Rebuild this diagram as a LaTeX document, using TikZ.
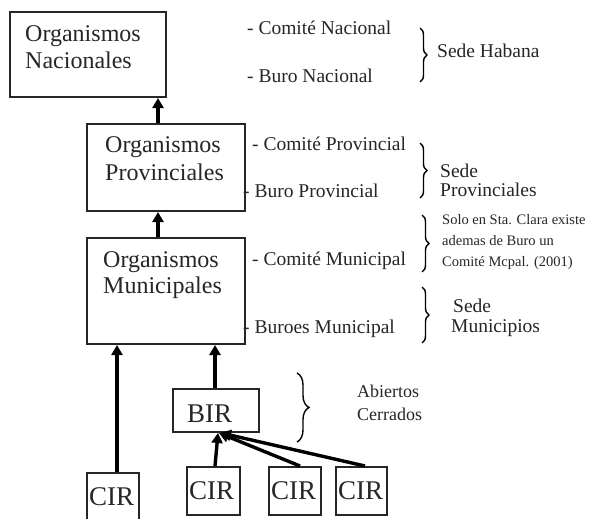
\documentclass[tikz,border=0pt]{standalone}
\usepackage{fontspec}
\setmainfont{Liberation Serif}
\usetikzlibrary{arrows.meta,decorations.pathreplacing,calc}
\begin{document}
\begin{tikzpicture}[x=1pt,y=-1pt,
  box/.style={draw=black!85,line width=2pt,inner sep=0pt},
  arr/.style={line width=3.4pt,-{Triangle[width=11pt,length=10pt]}},
  txt/.style={anchor=base west,inner sep=0pt,text=black!85},
  big/.style={txt,font=\fontsize{24}{26}\selectfont},
  huge/.style={txt,font=\fontsize{27}{29}\selectfont},
  lab/.style={txt,font=\fontsize{19.5}{21}\selectfont},
  small/.style={txt,font=\fontsize{14.5}{16}\selectfont},
  brc/.style={line width=1.4pt,decorate,decoration={brace,amplitude=#1}}]
\clip (0,0) rectangle (605,519);
\fill[white] (0,0) rectangle (605,519);
% boxes
\node[box,minimum width=156pt,minimum height=85pt] (nac) at (88,54.5) {};
\node[box,minimum width=158pt,minimum height=87pt] (prov) at (166,167.5) {};
\node[box,minimum width=158pt,minimum height=106pt] (mun) at (166,291) {};
\node[box,minimum width=86pt,minimum height=43pt] (bir) at (216,410.5) {};
\node[box,minimum width=52pt,minimum height=60pt] (cir0) at (113,503) {};
\node[box,minimum width=53pt,minimum height=48pt] (cir1) at (213.5,491) {};
\node[box,minimum width=52pt,minimum height=48pt] (cir2) at (295,491) {};
\node[box,minimum width=51pt,minimum height=48pt] (cir3) at (361.5,491) {};
% box texts
\node[big] (t1) at (25,42) {Organismos};
\node[big] (t2) at (25,68) {Nacionales};
\node[big] (t3) at (105,152) {Organismos};
\node[big] (t4) at (105,180) {Provinciales};
\node[big] (t5) at (103,267) {Organismos};
\node[big] (t6) at (103,293) {Municipales};
\node[huge] (tb) at (187,422) {BIR};
\node[huge] (tc0) at (89,505) {CIR};
\node[huge] (tc1) at (189,499) {CIR};
\node[huge] (tc2) at (271,499) {CIR};
\node[huge] (tc3) at (338,499) {CIR};
% arrows
\draw[arr] ([xshift=-8pt]prov.north) -- ([xshift=-8pt]prov.north |- nac.south);
\draw[arr] ([xshift=-8pt]mun.north) -- ([xshift=-8pt]mun.north |- prov.south);
\draw[arr] ([xshift=4pt]cir0.north) -- ([xshift=4pt]cir0.north |- mun.south);
\draw[arr] ([xshift=-1pt]bir.north) -- ([xshift=-1pt]bir.north |- mun.south);
\coordinate (bin) at ([xshift=2pt]bir.south);
\draw[arr] ([xshift=1.5pt]cir1.north) -- (bin);
\draw[arr] ([xshift=5pt]cir2.north) -- ([xshift=1pt]bin);
\draw[arr] ([xshift=3.5pt]cir3.north) -- ([xshift=3pt]bin);
% right labels
\node[lab] (l1) at (247,35) {- Comité Nacional};
\node[lab] (l2) at (247,82) {- Buro Nacional};
\node[lab] (l3) at (437,58) {Sede Habana};
\node[lab] (l4) at (252,150) {- Comité Provincial};
\node[lab] (l5) at (243,197) {- Buro Provincial};
\node[lab] (l6) at (440,177) {Sede};
\node[lab] (l7) at (440,196) {Provinciales};
\node[lab] (l8) at (252,265) {- Comité Municipal};
\node[lab] (l9) at (243,333) {- Buroes Municipal};
\node[small] (s1) at (442,224) {Solo en Sta. Clara existe};
\node[small] (s2) at (442,245) {ademas de Buro un};
\node[small] (s3) at (442,266) {Comité Mcpal. (2001)};
\node[lab] (l10) at (453,312) {Sede};
\node[lab] (l11) at (451,332) {Municipios};
\node[txt,font=\fontsize{18}{20}\selectfont] (a1) at (357,397) {Abiertos};
\node[txt,font=\fontsize{18}{20}\selectfont] (a2) at (357,420) {Cerrados};
% braces
\coordinate (b1a) at (420,28); \coordinate (b1b) at (420,82);
\coordinate (b2a) at (420,143); \coordinate (b2b) at (420,198);
\coordinate (b3a) at (422,215); \coordinate (b3b) at (422,272);
\coordinate (b4a) at (422,287); \coordinate (b4b) at (422,343);
\coordinate (b5a) at (297,373); \coordinate (b5b) at (297,442);
\draw[brc=7pt] (b1a) -- (b1b);
\draw[brc=7pt] (b2a) -- (b2b);
\draw[brc=7pt] (b3a) -- (b3b);
\draw[brc=7pt] (b4a) -- (b4b);
\draw[brc=12pt] (b5a) -- (b5b);
\end{tikzpicture}
\end{document}
